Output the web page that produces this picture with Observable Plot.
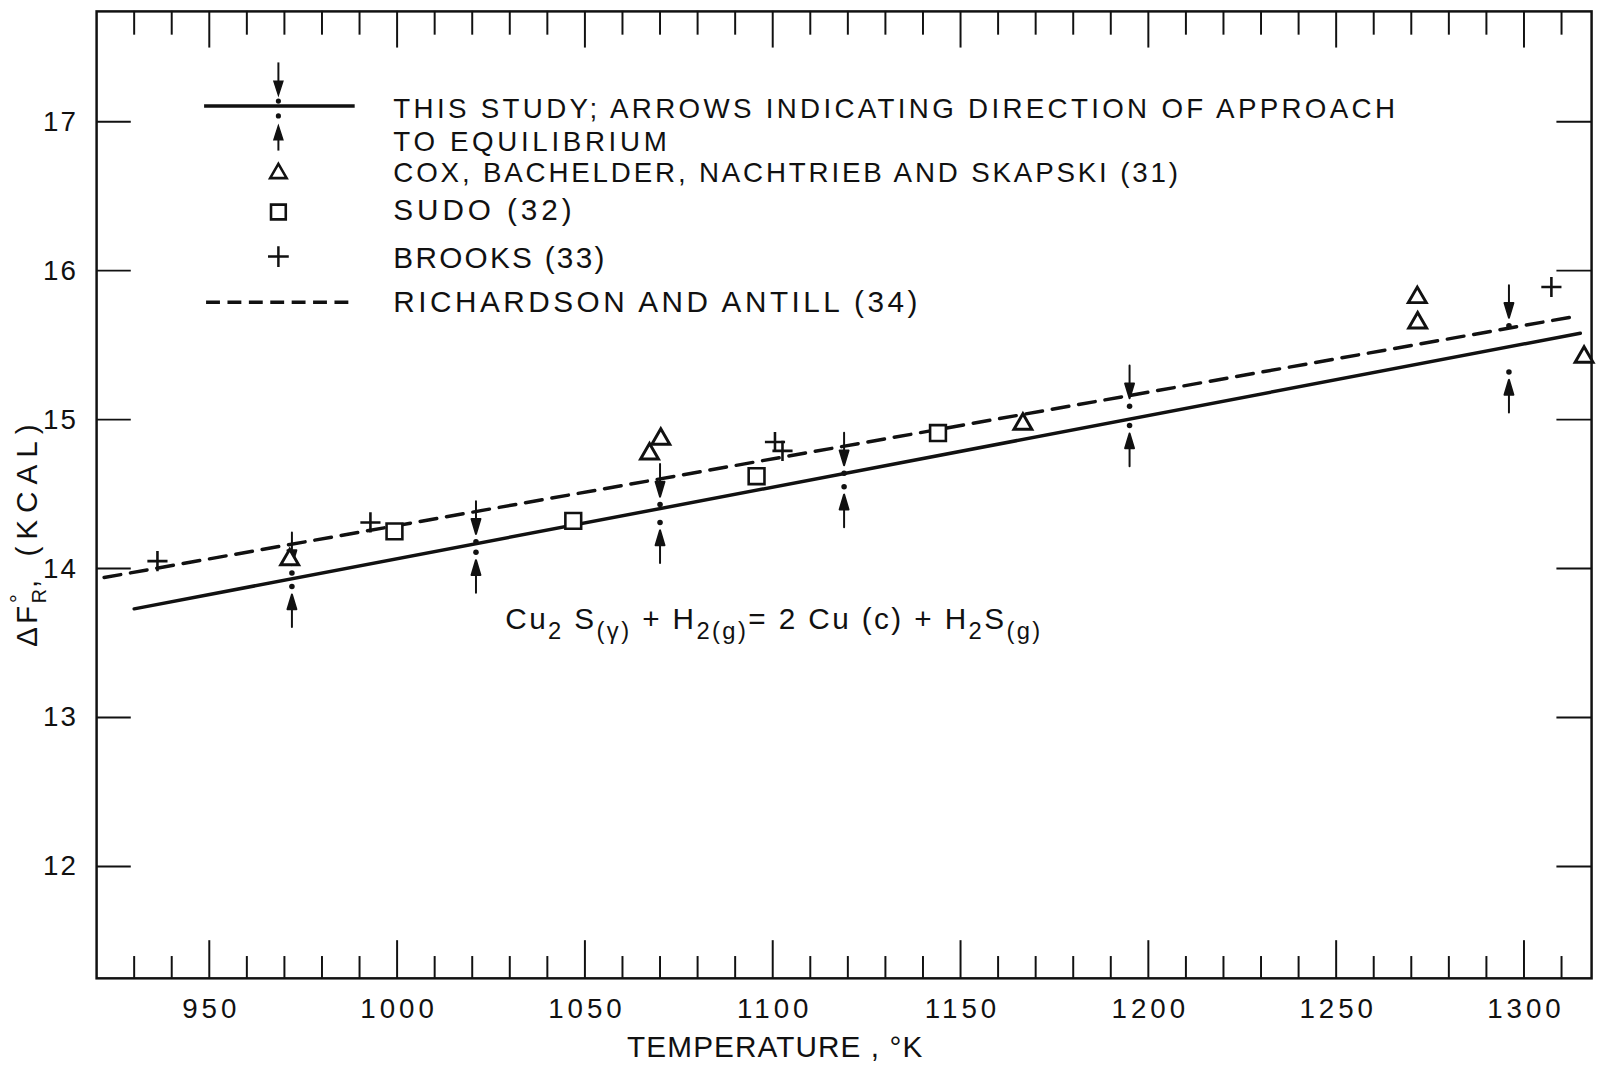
<!DOCTYPE html>
<html><head><meta charset="utf-8">
<script src="https://cdn.jsdelivr.net/npm/d3@7"></script>
<script src="https://cdn.jsdelivr.net/npm/@observablehq/plot@0.6"></script>
<style>
html,body{margin:0;padding:0;background:#fff;overflow:hidden;width:1601px;height:1075px}
#chart{position:relative;width:1601px;height:1075px;overflow:hidden}
</style></head><body><div id="chart"></div>
<script>
// ---------- data ----------
const xMajorTicks = [950, 1000, 1050, 1100, 1150, 1200, 1250, 1300];
const xTickLabels = ["950", "1000", "1050", "1100", "1150", "1200", "1250", "1300"];
const xMinorTicks = [930, 940, 960, 970, 980, 990, 1010, 1020, 1030, 1040, 1060, 1070, 1080, 1090,
  1110, 1120, 1130, 1140, 1160, 1170, 1180, 1190, 1210, 1220, 1230, 1240, 1260, 1270, 1280, 1290, 1310];
const yTicks = [12, 13, 14, 15, 16, 17];
const yTickLabels = ["12", "13", "14", "15", "16", "17"];

// This study: fitted line and points (approach from above / from below)
const studyLineT = [930, 1315];
const studyLineV = [13.73, 15.58];
const studyT = [972, 1021, 1070, 1119, 1195, 1296];
const studyFromAbove = [13.97, 14.18, 14.43, 14.64, 15.09, 15.63];
const studyFromBelow = [13.88, 14.11, 14.31, 14.55, 14.96, 15.32];

// Richardson and Antill (34)
const richT = [922, 1313];
const richV = [13.94, 15.69];

// Cox, Bachelder, Nachtrieb and Skapski (31)
const coxT = [971.4, 1067.2, 1070.2, 1166.6, 1271.6, 1271.7, 1316];
const coxV = [14.06, 14.77, 14.87, 14.97, 15.82, 15.65, 15.42];

// Sudo (32)
const sudoT = [999.3, 1046.9, 1095.7, 1144.0];
const sudoV = [14.25, 14.32, 14.62, 14.91];

// Brooks (33)
const brooksT = [936.2, 992.9, 1100.6, 1102.6, 1307.3];
const brooksV = [14.05, 14.31, 14.85, 14.79, 15.89];

const legendLabels = [
  "THIS STUDY; ARROWS INDICATING DIRECTION OF APPROACH",
  "TO EQUILIBRIUM",
  "COX, BACHELDER, NACHTRIEB AND SKAPSKI (31)",
  "SUDO (32)",
  "BROOKS (33)",
  "RICHARDSON AND ANTILL (34)"
];
const xTitle = "TEMPERATURE , °K";

// ---------- tables ----------
const zip = (T, V) => T.map((t, i) => ({T: t, v: V[i]}));
const studyLine = zip(studyLineT, studyLineV);
const rich = zip(richT, richV);
const cox = zip(coxT, coxV);
const sudo = zip(sudoT, sudoV);
const brooks = zip(brooksT, brooksV);
const above = zip(studyT, studyFromAbove);
const below = zip(studyT, studyFromBelow);

// ---------- layout ----------
const W = 1616, H = 1075;
const mL = 97, mR = 10, mT = 11, mB = 88;
const fw = W - mL - mR, fh = H - mT - mB;
const INK = "#111";
const FONT = "'Liberation Sans', Arial, sans-serif";

const arrowShape = {
  draw(context, l) {
    const hl = 15, hw = 4.5;
    context.moveTo(0, 0);
    context.lineTo(0, -l + hl * 0.7);
    context.moveTo(0, -l);
    context.lineTo(-hw, -l + hl);
    context.lineTo(hw, -l + hl);
    context.closePath();
  }
};

const chart = Plot.plot({
  width: W, height: H,
  marginLeft: mL, marginRight: mR, marginTop: mT, marginBottom: mB,
  x: {domain: [920, 1318], axis: null},
  y: {domain: [11.25, 17.74], axis: null},
  style: {background: "white", color: INK, fontFamily: FONT},
  marks: [
    Plot.frame({stroke: INK, strokeWidth: 2.5}),
    Plot.ruleX(xMinorTicks, {insetTop: fh - 22, stroke: INK, strokeWidth: 2}),
    Plot.ruleX(xMajorTicks, {insetTop: fh - 38, stroke: INK, strokeWidth: 2}),
    Plot.ruleX(xMinorTicks, {insetBottom: fh - 24, stroke: INK, strokeWidth: 2}),
    Plot.ruleX(xMajorTicks, {insetBottom: fh - 37, stroke: INK, strokeWidth: 2}),
    Plot.ruleY(yTicks, {insetRight: fw - 35, stroke: INK, strokeWidth: 2}),
    Plot.ruleY(yTicks, {insetLeft: fw - 35, stroke: INK, strokeWidth: 2}),
    Plot.axisX({ticks: xMajorTicks, tickSize: 0, tickPadding: 20, fontSize: 28, label: null,
      tickFormat: d => xTickLabels[xMajorTicks.indexOf(d)]}),
    Plot.axisY({ticks: yTicks, tickSize: 0, tickPadding: 19, fontSize: 28, label: null,
      tickFormat: d => yTickLabels[yTicks.indexOf(d)]}),
    Plot.line(rich, {x: "T", y: "v", stroke: INK, strokeWidth: 3.5, strokeDasharray: "17,10"}),
    Plot.line(studyLine, {x: "T", y: "v", stroke: INK, strokeWidth: 3.5}),
    Plot.vector(above, {x: "T", y: "v", length: 33, rotate: 180, anchor: "end", dy: -8,
      shape: arrowShape, stroke: INK, fill: INK, strokeWidth: 2}),
    Plot.vector(below, {x: "T", y: "v", length: 33, rotate: 0, anchor: "end", dy: 8,
      shape: arrowShape, stroke: INK, fill: INK, strokeWidth: 2}),
    Plot.dot(above, {x: "T", y: "v", r: 2.8, fill: INK, stroke: null}),
    Plot.dot(below, {x: "T", y: "v", r: 2.8, fill: INK, stroke: null}),
    Plot.dot(cox, {x: "T", y: "v", symbol: "triangle", r: 6.7, stroke: INK, fill: "white", strokeWidth: 3}),
    Plot.dot(sudo, {x: "T", y: "v", symbol: "square", r: 9, stroke: INK, fill: "white", strokeWidth: 2.6}),
    Plot.dot(brooks, {x: "T", y: "v", symbol: "plus", r: 6.6, stroke: INK, fill: "none", strokeWidth: 2.6})
  ]
});
document.getElementById("chart").appendChild(chart);

const svg = d3.select(chart);
svg.selectAll("[aria-label='x-axis tick label'] text").attr("letter-spacing", 4).attr("dx", 2);
svg.selectAll("[aria-label='y-axis tick label'] text").attr("letter-spacing", 2);

// ---------- legend ----------
const lg = svg.append("g").attr("class", "legend").attr("text-anchor", "start");
const sx = 281;
lg.append("line").attr("x1", 206).attr("x2", 358).attr("y1", 107).attr("y2", 107)
  .attr("stroke", INK).attr("stroke-width", 3.5);
function arrow(x, tip, tail) {
  const dir = tail < tip ? 1 : -1; // 1 = pointing down
  const hl = 14, hw = 4.5;
  lg.append("line").attr("x1", x).attr("x2", x).attr("y1", tail).attr("y2", tip - dir * hl * 0.7)
    .attr("stroke", INK).attr("stroke-width", 2);
  lg.append("path").attr("d", `M${x},${tip}L${x - hw},${tip - dir * hl}L${x + hw},${tip - dir * hl}Z`)
    .attr("fill", INK).attr("stroke", INK).attr("stroke-width", 1.5);
}
arrow(sx, 96, 63);
arrow(sx, 127, 152);
lg.append("circle").attr("cx", sx).attr("cy", 102).attr("r", 2.6).attr("fill", INK);
lg.append("circle").attr("cx", sx).attr("cy", 117).attr("r", 2.6).attr("fill", INK);
lg.append("path").attr("transform", `translate(${sx},175)`)
  .attr("d", d3.symbol(d3.symbolTriangle, Math.PI * 6.2 * 6.2)())
  .attr("fill", "white").attr("stroke", INK).attr("stroke-width", 2.6);
lg.append("path").attr("transform", `translate(${sx},214)`)
  .attr("d", d3.symbol(d3.symbolSquare, Math.PI * 8.4 * 8.4)())
  .attr("fill", "white").attr("stroke", INK).attr("stroke-width", 2.6);
lg.append("path").attr("transform", `translate(${sx},259)`)
  .attr("d", d3.symbol(d3.symbolPlus, Math.PI * 6.8 * 6.8)())
  .attr("fill", "none").attr("stroke", INK).attr("stroke-width", 2.5);
lg.append("line").attr("x1", 208).attr("x2", 358).attr("y1", 305).attr("y2", 305)
  .attr("stroke", INK).attr("stroke-width", 3.5).attr("stroke-dasharray", "14,7.6");

const legendBase = [119, 152, 184, 222, 271, 315];
const legendSize = [28, 28, 28, 30, 30, 30];
const legendLen = [1011, 276, 792, 180, 213, 529];
legendLabels.forEach((t, i) => {
  lg.append("text").attr("x", 397).attr("y", legendBase[i]).attr("text-anchor", "start")
    .attr("font-family", FONT).attr("font-size", legendSize[i]).attr("fill", INK)
    .attr("textLength", legendLen[i]).attr("lengthAdjust", "spacing").text(t);
});

// ---------- axis titles ----------
svg.append("text").attr("x", 633).attr("y", 1067).attr("text-anchor", "start")
  .attr("font-family", FONT).attr("font-size", 30).attr("fill", INK)
  .attr("textLength", 298).attr("lengthAdjust", "spacing").text(xTitle);

const yt = svg.append("text").attr("transform", "translate(37,653) rotate(-90)").attr("text-anchor", "start")
  .attr("font-family", FONT).attr("font-size", 30).attr("fill", INK);
yt.append("tspan").attr("letter-spacing", 3).text("ΔF");
yt.append("tspan").attr("font-size", 22).attr("dy", -11).text("°");
yt.append("tspan").attr("font-size", 20).attr("dx", -9).attr("dy", 20).text("R");
yt.append("tspan").attr("dy", -9).attr("dx", 1).text(",");
yt.append("tspan").attr("letter-spacing", 7).attr("dx", 8).text(" (KCAL)");

// ---------- reaction label ----------
const rx = svg.append("text").attr("x", 510).attr("y", 635).attr("text-anchor", "start")
  .attr("font-family", FONT).attr("font-size", 30).attr("fill", INK)
  .attr("textLength", 540).attr("lengthAdjust", "spacing");
const parts = [
  ["Cu", 0], ["2", 1], [" S", 0], ["(γ)", 1], [" + H", 0], ["2(g)", 1], ["= 2 Cu (c) + H", 0], ["2", 1], ["S", 0], ["(g)", 1]
];
let level = 0;
parts.forEach(([t, sub]) => {
  const dy = (sub - level) * 10;
  level = sub;
  rx.append("tspan").attr("dy", dy).attr("font-size", sub ? 24 : 30).text(t);
});
</script></body></html>
